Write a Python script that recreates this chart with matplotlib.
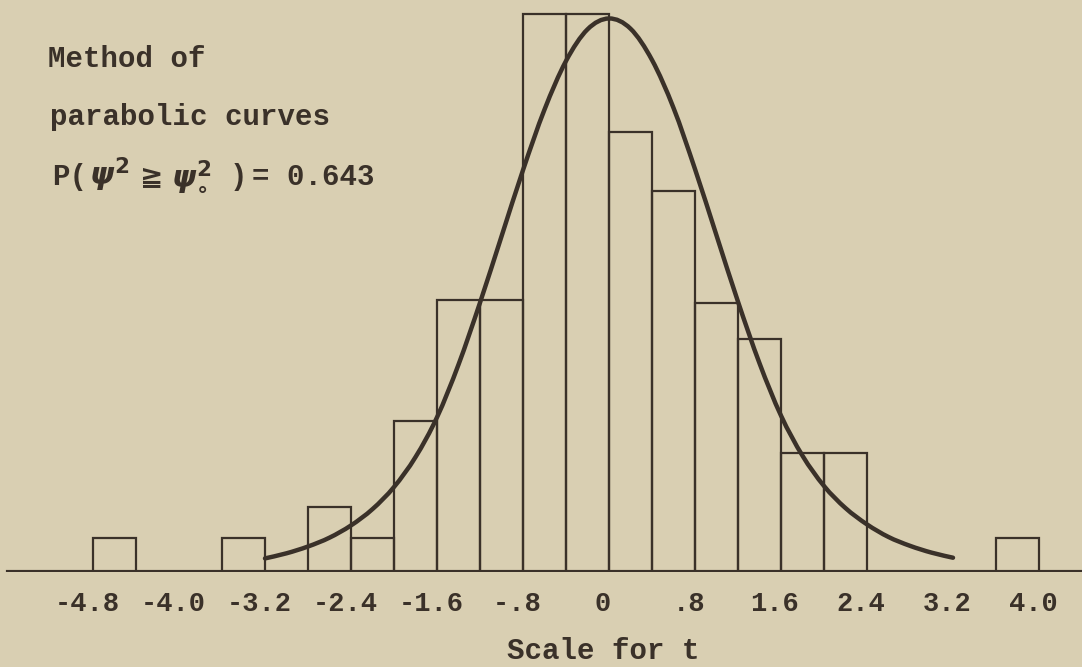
import numpy as np
import matplotlib.pyplot as plt
import matplotlib.transforms as mtransforms
from matplotlib.path import Path
from matplotlib.patches import PathPatch

# histogram of t values (class width 0.4), heights in frequency units
bin_left = [-4.8, -3.6, -2.8, -2.4, -2.0, -1.6, -1.2, -0.8, -0.4,
            0.0, 0.4, 0.8, 1.2, 1.6, 2.0, 3.6]
bin_height = [1.0, 1.0, 1.9, 1.0, 4.45, 8.0, 8.0, 16.4, 16.4,
              12.95, 11.2, 7.9, 6.85, 3.5, 3.5, 1.0]
bin_width = 0.4

# fitted curve (method of parabolic curves), read every 0.2 in t
curve_t = [-3.2, -3.0, -2.8, -2.6, -2.4, -2.2, -2.0, -1.8, -1.6, -1.4,
           -1.2, -1.0, -0.8, -0.6, -0.4, -0.2, 0.0, 0.2, 0.4, 0.6,
           0.8, 1.0, 1.2, 1.4, 1.6, 1.8, 2.0, 2.2, 2.4, 2.6,
           2.8, 3.0, 3.2]
curve_h = [0.40, 0.55, 0.75, 1.01, 1.37, 1.85, 2.50, 3.38, 4.55, 6.1,
           7.92, 9.87, 11.82, 13.6, 15.03, 15.96, 16.28, 15.98, 15.06, 13.65,
           11.85, 9.9, 7.95, 6.14, 4.6, 3.42, 2.53, 1.88, 1.40, 1.03,
           0.77, 0.57, 0.42]

tick_vals = [-4.8, -4.0, -3.2, -2.4, -1.6, -0.8, 0.0, 0.8, 1.6, 2.4, 3.2, 4.0]
tick_text = ["-4.8", "-4.0", "-3.2", "-2.4", "-1.6", "-.8", "0", ".8",
             "1.6", "2.4", "3.2", "4.0"]

paper = "#d9cfb2"
ink = "#3a3129"
W, H = 1082, 667

plt.rcParams["font.family"] = ["Liberation Mono", "DejaVu Sans"]
plt.rcParams["font.weight"] = "bold"
plt.rcParams["mathtext.fontset"] = "dejavusans"

fig = plt.figure(figsize=(W / 100, H / 100), dpi=100, facecolor=paper)
ax = fig.add_axes([0, 95 / H, 1, 572 / H])
ax.set_facecolor(paper)
ax.set_xlim(-609 / 107.5, (W - 609) / 107.5)
ax.set_ylim(0, 572 / 34)

ax.bar(bin_left, bin_height, width=bin_width, align="edge",
       fill=False, edgecolor=ink, linewidth=1.6, zorder=2)

# smooth curve through the read points (Catmull-Rom -> cubic Bezier)
pts = np.column_stack([curve_t, curve_h])
verts = [pts[0]]
codes = [Path.MOVETO]
n = len(pts)
for i in range(n - 1):
    p0 = pts[max(i - 1, 0)]
    p1 = pts[i]
    p2 = pts[i + 1]
    p3 = pts[min(i + 2, n - 1)]
    verts += [p1 + (p2 - p0) / 6, p2 - (p3 - p1) / 6, p2]
    codes += [Path.CURVE4] * 3
ax.add_patch(PathPatch(Path(verts, codes), fill=False, edgecolor=ink,
                       linewidth=3.2, capstyle="round", zorder=3))

# base line
ax.axhline(0, xmin=8 / W, xmax=1, color=ink, linewidth=3.0, zorder=4)

for s in ax.spines.values():
    s.set_visible(False)
ax.set_yticks([])
ax.set_xticks(tick_vals)
ax.set_xticklabels(tick_text, fontsize=19.5, color=ink)
ax.tick_params(axis="x", length=0, pad=14)
shift = mtransforms.ScaledTranslation(-6 / 100, 0, fig.dpi_scale_trans)
for lab in ax.get_xticklabels():
    lab.set_transform(lab.get_transform() + shift)
ax.set_xlabel("Scale for t", fontsize=21, color=ink, labelpad=14,
              fontweight="bold")
ax.xaxis.label.set_x(603 / W)


def put(x, y, s, **kw):
    kw.setdefault("fontsize", 21)
    fig.text(x / W, 1 - y / H, s, color=ink, va="baseline", ha="left", **kw)


put(48, 67, "Method of")
put(50, 125, "parabolic curves")
put(52, 185, "P(")
put(89, 185, r"$\psi^{2}$", fontsize=22)
put(140, 185, "\u2267", fontsize=20, family="DejaVu Sans")
put(171, 185, r"$\psi_{\circ}^{2}$", fontsize=22)
put(230, 185, ")")
put(252, 185, "= 0.643")

fig.savefig("out.png", dpi=100, facecolor=paper)
